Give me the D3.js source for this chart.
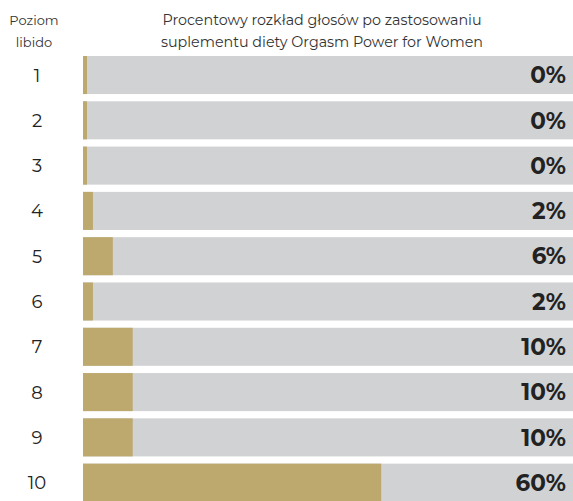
<!DOCTYPE html>
<html>
<head>
<meta charset="utf-8">
<script src="https://cdn.jsdelivr.net/npm/d3@7"></script>
<style>
  body { margin: 0; background: #fff; }
  #plot { width: 573px; height: 501px; }
</style>
</head>
<body>
<div id="plot"></div>
<script>
// libido levels and share of votes (%)
const levels = ['1', '2', '3', '4', '5', '6', '7', '8', '9', '10'];
const shares = [0, 0, 0, 2, 6, 2, 10, 10, 10, 60];
const titleLines = ['Procentowy rozkład głosów po zastosowaniu', 'suplementu diety Orgasm Power for Women'];
const headerLines = ['Poziom', 'libido'];

const W = 573, H = 501;
const svg = d3.select('#plot').append('svg').attr('width', W).attr('height', H);

const yScale = d3.scaleBand().domain(levels).range([56, 501.7]).paddingInner(0.16).paddingOuter(0);
const xScale = d3.scaleLinear().domain([0, 100]).range([83, 580]);

const rows = svg.selectAll('.row').data(levels.map((l, i) => ({ level: l, value: shares[i] })))
  .enter().append('g').attr('class', 'row');

// grey track
rows.append('rect')
  .attr('x', xScale(0))
  .attr('y', d => yScale(d.level))
  .attr('width', W - xScale(0))
  .attr('height', yScale.bandwidth())
  .attr('fill', '#d1d2d4');

// gold bar (small sliver for 0%)
rows.append('rect')
  .attr('x', xScale(0))
  .attr('y', d => yScale(d.level))
  .attr('width', d => Math.max(4, xScale(d.value) - xScale(0)))
  .attr('height', yScale.bandwidth())
  .attr('fill', '#bda96e');

rows.append('text')
  .attr('x', 566)
  .attr('y', d => yScale(d.level) + yScale.bandwidth() / 2)
  .attr('dy', '0.36em')
  .attr('text-anchor', 'end')
  .style('font-family', 'Montserrat, "Open Sans", sans-serif')
  .style('font-weight', 'bold')
  .style('font-size', '23px')
  .style('fill', '#222')
  .text(d => d.value + '%');

rows.append('text')
  .attr('x', 37)
  .attr('y', d => yScale(d.level) + yScale.bandwidth() / 2)
  .attr('dy', '0.36em')
  .attr('text-anchor', 'middle')
  .style('font-family', 'Montserrat, "Open Sans", sans-serif')
  .style('font-size', '18px')
  .style('fill', '#222')
  .text(d => d.level);

svg.append('text')
  .attr('text-anchor', 'middle')
  .style('font-family', 'Montserrat, "Open Sans", sans-serif')
  .style('font-size', '13px')
  .style('fill', '#333')
  .selectAll('tspan').data(headerLines).enter().append('tspan')
  .attr('x', 34).attr('y', (d, i) => 25 + i * 22).text(d => d);

svg.append('text')
  .attr('text-anchor', 'middle')
  .style('font-family', 'Montserrat, "Open Sans", sans-serif')
  .style('font-size', '14.3px')
  .style('fill', '#333')
  .selectAll('tspan').data(titleLines).enter().append('tspan')
  .attr('x', 322).attr('y', (d, i) => 25 + i * 22).text(d => d);
</script>
</body>
</html>
